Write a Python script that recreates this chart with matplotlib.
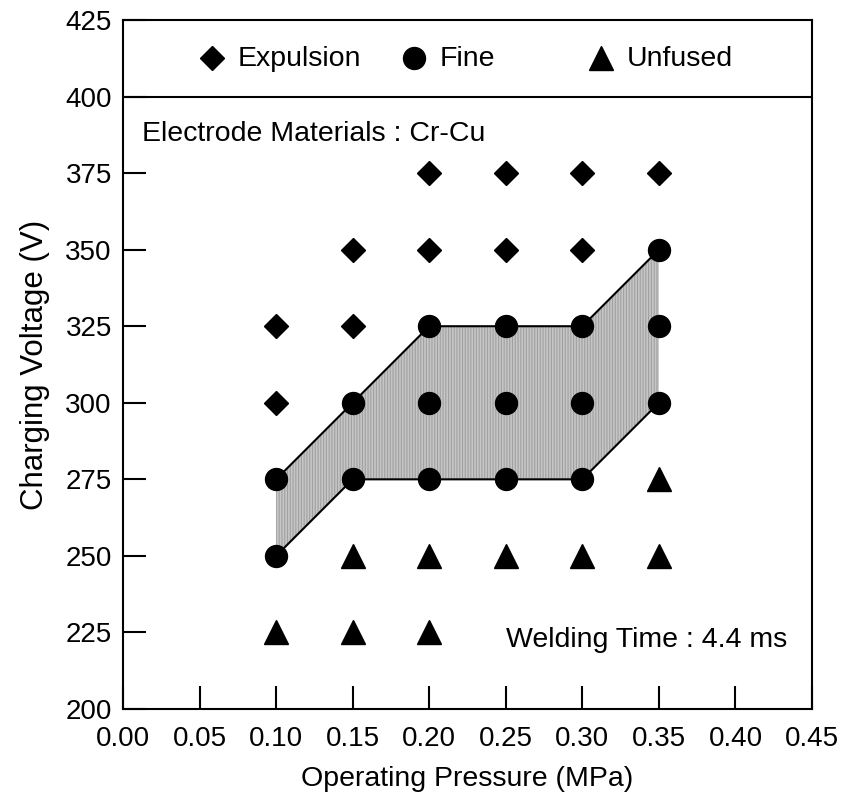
import matplotlib
matplotlib.use("Agg")
import matplotlib.pyplot as plt
from matplotlib.patches import Polygon

plt.rcParams['font.family'] = ['Liberation Sans', 'DejaVu Sans']
plt.rcParams['hatch.linewidth'] = 0.8

# Data
expulsion_x = [0.10, 0.10, 0.15, 0.15, 0.20, 0.20, 0.25, 0.25, 0.30, 0.30, 0.35]
expulsion_y = [300, 325, 325, 350, 350, 375, 350, 375, 350, 375, 375]
fine_x = [0.10, 0.10, 0.15, 0.15, 0.20, 0.20, 0.20, 0.25, 0.25, 0.25, 0.30, 0.30, 0.30, 0.35, 0.35, 0.35]
fine_y = [250, 275, 275, 300, 275, 300, 325, 275, 300, 325, 275, 300, 325, 300, 325, 350]
unfused_x = [0.10, 0.15, 0.15, 0.20, 0.20, 0.25, 0.30, 0.35, 0.35]
unfused_y = [225, 225, 250, 225, 250, 250, 250, 250, 275]

upper_x = [0.10, 0.15, 0.20, 0.30, 0.35]
upper_y = [275, 300, 325, 325, 350]
lower_x = [0.10, 0.15, 0.30, 0.35]
lower_y = [250, 275, 275, 300]

xticks = [0.00, 0.05, 0.10, 0.15, 0.20, 0.25, 0.30, 0.35, 0.40, 0.45]
yticks = [200, 225, 250, 275, 300, 325, 350, 375, 400, 425]

fig = plt.figure(figsize=(8.45, 8.05), dpi=100)
ax = fig.add_axes([123/845, 1 - 709/805, (812-123)/845, (709-20)/805])

# shaded region
poly_pts = list(zip(upper_x, upper_y)) + list(zip(lower_x[::-1], lower_y[::-1]))
poly = Polygon(poly_pts, closed=True, facecolor='#c6c6c6', edgecolor='#a0a0a0',
               hatch='||||||', linewidth=0, zorder=1)
ax.add_patch(poly)
ax.plot(upper_x, upper_y, color='black', lw=1.5, zorder=2)
ax.plot(lower_x, lower_y, color='black', lw=1.5, zorder=2)

ax.plot(expulsion_x, expulsion_y, 'D', color='black', ms=12.2, ls='none', zorder=3)
ax.plot(fine_x, fine_y, 'o', color='black', ms=15.8, ls='none', zorder=3)
ax.plot(unfused_x, unfused_y, '^', color='black', ms=17, ls='none', zorder=3)

# legend band
ax.axhline(400, color='black', lw=1.5, zorder=2)
leg_y = 0.943
fs_txt = 20.5
ax.plot([0.1292], [leg_y + 0.002], 'D', color='black', ms=12.2, transform=ax.transAxes, clip_on=False)
ax.text(0.1669, leg_y, 'Expulsion', transform=ax.transAxes, fontsize=fs_txt, va='center', ha='left')
ax.plot([0.4223], [leg_y + 0.002], 'o', color='black', ms=15.8, transform=ax.transAxes, clip_on=False)
ax.text(0.4601, leg_y, 'Fine', transform=ax.transAxes, fontsize=fs_txt, va='center', ha='left')
ax.plot([0.6938], [leg_y + 0.002], '^', color='black', ms=17, transform=ax.transAxes, clip_on=False)
ax.text(0.7315, leg_y, 'Unfused', transform=ax.transAxes, fontsize=fs_txt, va='center', ha='left')

ax.text(0.0276, 0.834, 'Electrode Materials : Cr-Cu', transform=ax.transAxes,
        fontsize=fs_txt, va='center', ha='left')
ax.text(0.9637, 0.100, 'Welding Time : 4.4 ms', transform=ax.transAxes,
        fontsize=fs_txt, va='center', ha='right')

ax.set_xlim(0, 0.45)
ax.set_ylim(200, 425)
ax.set_xticks(xticks)
ax.set_xticklabels([f'{v:.2f}' for v in xticks])
ax.set_yticks(yticks)
ax.set_yticklabels([str(v) for v in yticks])
ax.tick_params(direction='in', length=16.5, width=1.5, labelsize=20,
               top=False, right=False)
ax.tick_params(axis='x', pad=12)
ax.tick_params(axis='y', pad=8)
for s in ax.spines.values():
    s.set_linewidth(1.5)

ax.set_xlabel('Operating Pressure (MPa)', fontsize=20.5, labelpad=10)
ax.set_ylabel('Charging Voltage (V)', fontsize=22.5, labelpad=11)

fig.savefig('out.png', dpi=100)
